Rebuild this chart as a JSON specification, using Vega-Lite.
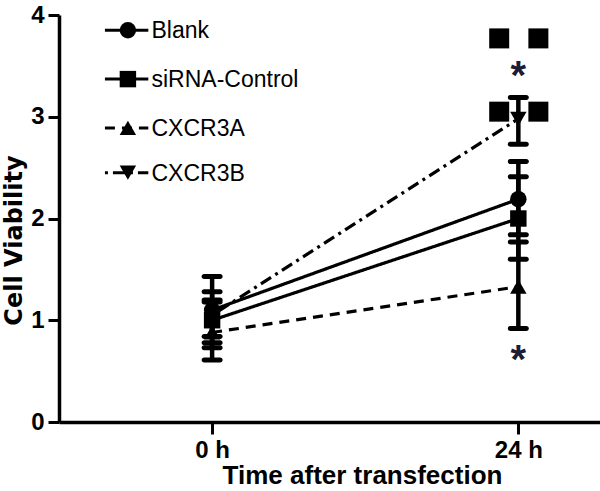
{
  "$schema": "https://vega.github.io/schema/vega-lite/v6.json",
  "width": 541,
  "height": 407,
  "autosize": "none",
  "padding": {"left": 59, "top": 15, "right": 0, "bottom": 69},
  "background": "white",
  "config": {"view": {"stroke": null}},
  "datasets": {
    "main": [
      {"group": "Blank", "time": 0, "mean": 1.1, "lo": 0.78, "hi": 1.43},
      {"group": "siRNA-Control", "time": 0, "mean": 1.0, "lo": 0.73, "hi": 1.28},
      {"group": "CXCR3A", "time": 0, "mean": 0.88, "lo": 0.61, "hi": 1.18},
      {"group": "CXCR3B", "time": 0, "mean": 1.05, "lo": 0.84, "hi": 1.2},
      {"group": "Blank", "time": 24, "mean": 2.19, "lo": 1.84, "hi": 2.56},
      {"group": "siRNA-Control", "time": 24, "mean": 2.0, "lo": 1.6, "hi": 2.41},
      {"group": "CXCR3A", "time": 24, "mean": 1.33, "lo": 0.92, "hi": 1.77},
      {"group": "CXCR3B", "time": 24, "mean": 2.98, "lo": 2.73, "hi": 3.19}
    ],
    "legend": [
      {"group": "Blank", "x1": -8.4, "x2": -5.0, "xm": -6.6, "xl": -4.75, "y": 3.85},
      {"group": "siRNA-Control", "x1": -8.4, "x2": -5.0, "xm": -6.6, "xl": -4.75, "y": 3.37},
      {"group": "CXCR3A", "x1": -8.4, "x2": -5.0, "xm": -6.6, "xl": -4.75, "y": 2.89},
      {"group": "CXCR3B", "x1": -8.4, "x2": -5.0, "xm": -6.6, "xl": -4.75, "y": 2.45}
    ],
    "squares": [
      {"x": 22.5, "y": 3.77},
      {"x": 25.57, "y": 3.77},
      {"x": 22.5, "y": 3.05},
      {"x": 25.57, "y": 3.05}
    ],
    "stars": [
      {"x": 24, "y": 3.27, "label": "*"},
      {"x": 24, "y": 0.48, "label": "*"}
    ]
  },
  "layer": [
    {
      "data": {"name": "main"},
      "mark": {"type": "line", "color": "black", "strokeWidth": 3.2},
      "encoding": {
        "x": {"field": "time", "type": "quantitative", "scale": {"domain": [-12, 30.4], "nice": false, "zero": false},
          "axis": {"values": [0, 24], "labelExpr": "datum.value + ' h'", "title": "Time after transfection",
            "grid": false, "domainWidth": 3.5, "domainColor": "black", "tickWidth": 3, "tickSize": 12, "tickColor": "black",
            "labelFont": "Liberation Sans", "labelFontWeight": "bold", "labelFontSize": 24, "labelColor": "black", "labelPadding": 4,
            "titleFont": "Liberation Sans", "titleFontWeight": "bold", "titleFontSize": 26, "titleColor": "black",
            "titleX": 303, "titleY": 61, "titleBaseline": "alphabetic", "titleAlign": "center"}},
        "y": {"field": "mean", "type": "quantitative", "scale": {"domain": [0, 4], "nice": false},
          "axis": {"values": [0, 1, 2, 3, 4], "format": "d", "title": "Cell  Viability", "grid": false,
            "domainWidth": 3.5, "domainColor": "black", "tickWidth": 3, "tickSize": 11, "tickColor": "black",
            "labelFont": "Liberation Sans", "labelFontWeight": "bold", "labelFontSize": 24, "labelColor": "black", "labelPadding": 4,
            "titleFont": "DejaVu Sans", "titleFontWeight": "bold", "titleFontSize": 24, "titleColor": "black",
            "titleAngle": -90, "titleX": -45, "titleY": 225, "titleBaseline": "middle", "titleAlign": "center"}},
        "detail": {"field": "group"},
        "strokeDash": {"field": "group", "type": "nominal",
          "scale": {"domain": ["Blank", "siRNA-Control", "CXCR3A", "CXCR3B"], "range": [[1, 0], [1, 0], [10, 7], [3, 5, 12, 5]]},
          "legend": null}
      }
    },
    {
      "data": {"name": "main"},
      "mark": {"type": "rule", "color": "black", "strokeWidth": 4.5},
      "encoding": {
        "x": {"field": "time", "type": "quantitative"},
        "y": {"field": "lo", "type": "quantitative"},
        "y2": {"field": "hi"}
      }
    },
    {
      "data": {"name": "main"},
      "mark": {"type": "tick", "color": "black", "orient": "horizontal", "size": 21, "thickness": 5, "cornerRadius": 2.5, "opacity": 1},
      "encoding": {
        "x": {"field": "time", "type": "quantitative"},
        "y": {"field": "lo", "type": "quantitative"}
      }
    },
    {
      "data": {"name": "main"},
      "mark": {"type": "tick", "color": "black", "orient": "horizontal", "size": 21, "thickness": 5, "cornerRadius": 2.5, "opacity": 1},
      "encoding": {
        "x": {"field": "time", "type": "quantitative"},
        "y": {"field": "hi", "type": "quantitative"}
      }
    },
    {
      "data": {"name": "main"},
      "mark": {"type": "point", "filled": true, "color": "black", "opacity": 1, "size": 270},
      "encoding": {
        "x": {"field": "time", "type": "quantitative"},
        "y": {"field": "mean", "type": "quantitative"},
        "shape": {"field": "group", "type": "nominal",
          "scale": {"domain": ["Blank", "siRNA-Control", "CXCR3A", "CXCR3B"], "range": ["circle", "square", "triangle-up", "triangle-down"]},
          "legend": null}
      }
    },
    {
      "data": {"name": "legend"},
      "mark": {"type": "rule", "color": "black", "strokeWidth": 3},
      "encoding": {
        "x": {"field": "x1", "type": "quantitative"},
        "x2": {"field": "x2"},
        "y": {"field": "y", "type": "quantitative"},
        "strokeDash": {"field": "group", "type": "nominal", "legend": null}
      }
    },
    {
      "data": {"name": "legend"},
      "mark": {"type": "point", "filled": true, "color": "black", "opacity": 1, "size": 270},
      "encoding": {
        "x": {"field": "xm", "type": "quantitative"},
        "y": {"field": "y", "type": "quantitative"},
        "shape": {"field": "group", "type": "nominal", "legend": null}
      }
    },
    {
      "data": {"name": "legend"},
      "mark": {"type": "text", "align": "left", "baseline": "middle", "font": "Liberation Sans", "fontSize": 23, "color": "black", "dy": 1},
      "encoding": {
        "x": {"field": "xl", "type": "quantitative"},
        "y": {"field": "y", "type": "quantitative"},
        "text": {"field": "group"}
      }
    },
    {
      "data": {"name": "squares"},
      "mark": {"type": "point", "shape": "square", "filled": true, "color": "black", "opacity": 1, "size": 400},
      "encoding": {
        "x": {"field": "x", "type": "quantitative"},
        "y": {"field": "y", "type": "quantitative"}
      }
    },
    {
      "data": {"name": "stars"},
      "mark": {"type": "text", "align": "center", "baseline": "alphabetic", "font": "Liberation Sans", "fontWeight": "bold", "fontSize": 40, "color": "#1b1b3a"},
      "encoding": {
        "x": {"field": "x", "type": "quantitative"},
        "y": {"field": "y", "type": "quantitative"},
        "text": {"field": "label"}
      }
    }
  ]
}
